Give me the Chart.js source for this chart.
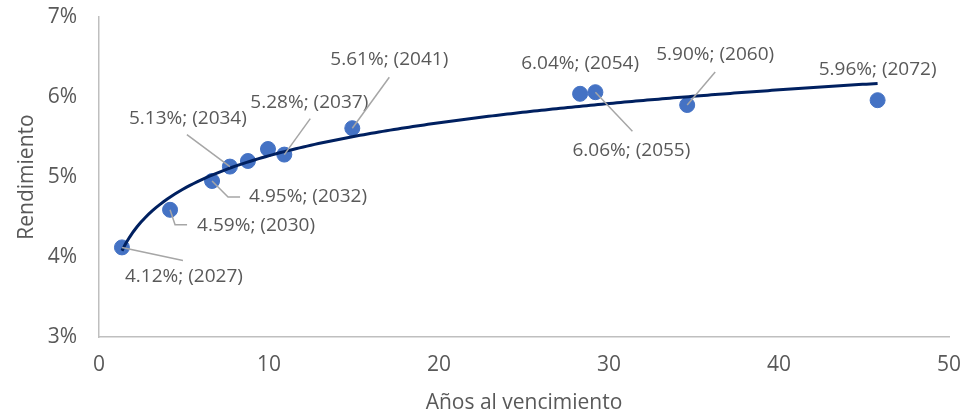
<!DOCTYPE html>
<html>
<head>
<meta charset="utf-8">
<script src="https://cdn.jsdelivr.net/npm/chart.js@4/dist/chart.umd.min.js"></script>
<style>
  html, body { margin: 0; padding: 0; background: #ffffff; }
  #wrap { width: 966px; height: 418px; }
</style>
</head>
<body>
<div id="wrap"><canvas id="c" width="966" height="418"></canvas></div>
<script>
// ---- Data ----
const yearsToMaturity = [1.35, 4.18, 6.65, 7.7, 8.76, 9.94, 10.9, 14.9, 28.3, 29.2, 34.6, 45.8];
const yieldPct        = [4.12, 4.59, 4.95, 5.13, 5.20, 5.35, 5.28, 5.61, 6.04, 6.06, 5.90, 5.96];
const maturityYear    = ['2027', '2030', '2032', '2034', null, null, '2037', '2041', '2054', '2055', '2060', '2072'];
const yTickValues     = [3, 4, 5, 6, 7];
const xTickValues     = [0, 10, 20, 30, 40, 50];

// ---- Label placement (pixel offsets of label centre from its point, and leader path) ----
const labelStyle = [
  { dx: 62, dy: 29, lead: [[61, 13]] },
  { dx: 86, dy: 16, lead: [[5, 15], [17, 15]] },
  { dx: 96, dy: 16, lead: [[16, 16], [28, 16]] },
  { dx: -42, dy: -48, lead: [[-43, -32]] },
  null,
  null,
  { dx: 25, dy: -52, lead: [[26, -36]] },
  { dx: 37, dy: -69, lead: [[37, -51]] },
  { dx: 0, dy: -30, lead: [] },
  { dx: 36, dy: 58, lead: [[37, 39]] },
  { dx: 28, dy: -50, lead: [[28, -33]] },
  { dx: 0, dy: -31, lead: [] }
];

const FONT = "'Open Sans', 'Noto Sans', sans-serif";
const TEXT = '#595959';

// ---- Logarithmic trendline (least squares fit of y = a + b ln x) ----
function logFit(xs, ys) {
  const n = xs.length;
  const lx = xs.map(Math.log);
  const mx = lx.reduce((s, v) => s + v, 0) / n;
  const my = ys.reduce((s, v) => s + v, 0) / n;
  let sxy = 0, sxx = 0;
  for (let i = 0; i < n; i++) { sxy += (lx[i] - mx) * (ys[i] - my); sxx += (lx[i] - mx) ** 2; }
  const b = sxy / sxx;
  return { a: my - b * mx, b };
}
const fit = logFit(yearsToMaturity, yieldPct);
const xMin = Math.min(...yearsToMaturity), xMax = Math.max(...yearsToMaturity);
const trend = [];
for (let i = 0; i <= 200; i++) {
  const x = xMin + (xMax - xMin) * i / 200;
  trend.push({ x, y: fit.a + fit.b * Math.log(x) });
}

const points = yearsToMaturity.map((x, i) => ({ x, y: yieldPct[i] }));

const labelPlugin = {
  id: 'pointLabels',
  afterDatasetsDraw(chart) {
    const ctx = chart.ctx;
    const meta = chart.getDatasetMeta(1);
    ctx.save();
    meta.data.forEach((el, i) => {
      const st = labelStyle[i];
      if (!st || !maturityYear[i]) return;
      const px = el.x, py = el.y;
      if (st.lead.length) {
        ctx.beginPath();
        ctx.strokeStyle = '#a6a6a6';
        ctx.lineWidth = 1.5;
        ctx.moveTo(px, py);
        st.lead.forEach(p => ctx.lineTo(px + p[0], py + p[1]));
        ctx.stroke();
      }
      ctx.fillStyle = TEXT;
      ctx.font = "19px " + FONT;
      ctx.textAlign = 'center';
      ctx.textBaseline = 'middle';
      ctx.fillText(yieldPct[i].toFixed(2) + '%; (' + maturityYear[i] + ')', px + st.dx, py + st.dy);
    });
    ctx.restore();
  }
};

new Chart(document.getElementById('c'), {
  type: 'scatter',
  data: {
    datasets: [
      {
        type: 'line',
        data: trend,
        borderColor: '#002060',
        borderWidth: 3,
        pointRadius: 0,
        fill: false,
        tension: 0,
        order: 0
      },
      {
        data: points,
        backgroundColor: '#4472C4',
        borderColor: '#4472C4',
        pointRadius: 7.5,
        pointHoverRadius: 7.5,
        order: 1
      }
    ]
  },
  options: {
    responsive: false,
    animation: false,
    layout: { padding: { top: 17, right: 17, left: 0, bottom: 0 } },
    plugins: { legend: { display: false }, tooltip: { enabled: false } },
    scales: {
      x: {
        type: 'linear',
        min: 0, max: 50,
        afterBuildTicks: s => { s.ticks = xTickValues.map(v => ({ value: v })); },
        afterFit: s => { s.height = 81; s.paddingLeft = 0; s.paddingRight = 0; },
        grid: { display: false, drawTicks: false },
        border: { display: true, color: '#bfbfbf', width: 1.5 },
        ticks: { color: TEXT, font: { family: FONT, size: 21 }, padding: 15, maxRotation: 0 },
        title: { display: true, text: 'Años al vencimiento', color: TEXT, font: { family: FONT, size: 21 }, padding: { top: 0, bottom: 2 } }
      },
      y: {
        type: 'linear',
        min: 3, max: 7,
        afterBuildTicks: s => { s.ticks = yTickValues.map(v => ({ value: v })); },
        afterFit: s => { s.width = 99; s.paddingTop = 0; s.paddingBottom = 0; },
        grid: { display: false, drawTicks: false },
        border: { display: true, color: '#bfbfbf', width: 1.5 },
        ticks: { color: TEXT, font: { family: FONT, size: 21 }, padding: 22, callback: v => v + '%' },
        title: { display: true, text: 'Rendimiento', color: TEXT, font: { family: FONT, size: 21 }, padding: { top: 14, bottom: 0 } }
      }
    }
  },
  plugins: [labelPlugin]
});
</script>
</body>
</html>
